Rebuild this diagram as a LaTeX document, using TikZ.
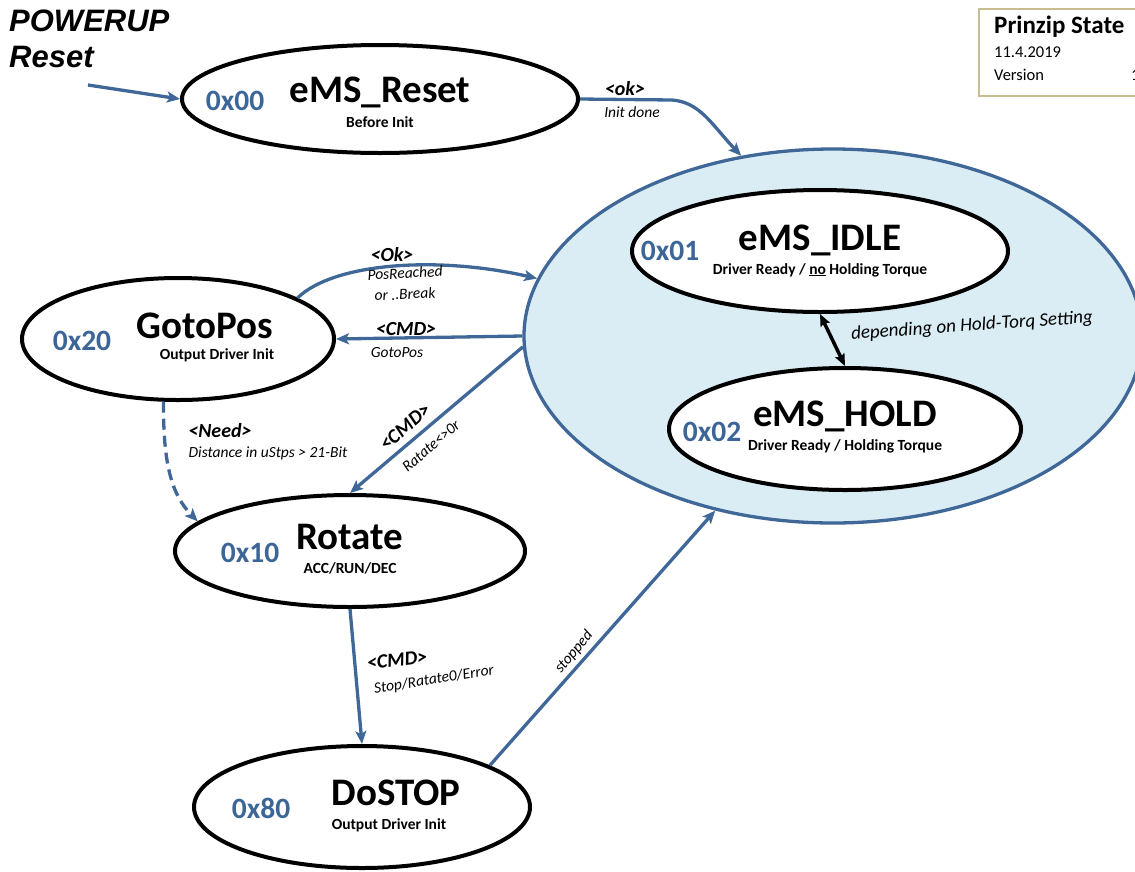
\documentclass[tikz,border=0pt]{standalone}
\usepackage{fontspec}
\setmainfont{Carlito}
\newfontfamily\arialfont{Liberation Sans}
\usetikzlibrary{arrows.meta,shapes.geometric}
\definecolor{eblue}{HTML}{3F6797}
\definecolor{hexblue}{HTML}{3D6698}
\definecolor{lblue}{HTML}{DAEDF4}
\definecolor{boxtan}{HTML}{C8BD90}
\begin{document}
\begin{tikzpicture}[x=1pt,y=-1pt,
  state/.style={ellipse, draw=black, line width=4pt, fill=white, inner sep=0pt},
  conn/.style={draw=eblue, line width=3.3pt, -{Stealth[length=13pt,width=11pt,inset=3pt]}},
  hex/.style={text=hexblue, font=\bfseries\fontsize{29.5}{31}\selectfont},
  ttl/.style={font=\bfseries\fontsize{39}{42}\selectfont},
  sub/.style={font=\bfseries\fontsize{15.5}{17}\selectfont},
  lbl/.style={font=\bfseries\itshape\fontsize{20}{22}\selectfont, inner sep=0pt},
  lsub/.style={font=\itshape\fontsize{15.5}{17}\selectfont, inner sep=0pt},
  pwrtxt/.style={font=\arialfont\bfseries\itshape\fontsize{31}{33}\selectfont, anchor=west, inner sep=0pt},
  infotxt/.style={anchor=west, inner sep=0pt, font=\fontsize{16.5}{18}\selectfont},
]
\useasboundingbox (0,0) rectangle (1135,871);

% info box
\node[draw=boxtan, line width=2pt, fill=white, minimum width=170pt, minimum height=87pt, anchor=north west, inner sep=0pt] (info) at (978,8) {};
\node[infotxt, font=\bfseries\fontsize{25}{27}\selectfont] (infot) at (994,27) {Prinzip State};
\node[infotxt] (infod) at (994,52) {11.4.2019};
\node[infotxt] (infov) at (994,75) {Version};
\node[infotxt] (infon) at (1131,75) {1};

% POWERUP
\node[pwrtxt] (pw1) at (9,21) {POWERUP};
\node[pwrtxt] (pw2) at (9,57) {Reset};
\coordinate (pwr) at (88,85);

% big composite state
\node[ellipse, draw=eblue, fill=lblue, line width=3.3pt, minimum width=618pt, minimum height=374pt, inner sep=0pt] (big) at (833,336) {};

% states
\node[state, minimum width=396pt, minimum height=108pt] (reset) at (380,99) {};
\node[state, minimum width=376pt, minimum height=122pt] (idle) at (820,251) {};
\node[state, minimum width=352pt, minimum height=122pt] (hold) at (845,429) {};
\node[state, minimum width=312pt, minimum height=122pt] (goto) at (178,339) {};
\node[state, minimum width=350pt, minimum height=112pt] (rotate) at (350,551) {};
\node[state, minimum width=336pt, minimum height=122pt] (dostop) at (362,807) {};

% texts in states
\node[hex] (h00) at (235,101) {0x00};
\node[ttl] (t00) at (380,92) {eMS\_Reset};
\node[sub] (s00) at (380,122) {Before Init};

\node[hex] (h01) at (670,251) {0x01};
\node[ttl] (t01) at (820,240) {eMS\_IDLE};
\node[sub] (s01) at (820,270) {Driver Ready / \underline{no} Holding Torque};

\node[hex] (h02) at (712,432) {0x02};
\node[ttl] (t02) at (845,416) {eMS\_HOLD};
\node[sub] (s02) at (845,446) {Driver Ready / Holding Torque};

\node[hex] (h20) at (82,341) {0x20};
\node[ttl] (t20) at (205,326) {GotoPos};
\node[sub] (s20) at (217,355) {Output Driver Init};

\node[hex] (h10) at (250,553) {0x10};
\node[ttl] (t10) at (350,537) {Rotate};
\node[sub] (s10) at (350,568) {ACC/RUN/DEC};

\node[hex] (h80) at (261,808) {0x80};
\node[ttl] (t80) at (396,793) {DoSTOP};
\node[sub] (s80) at (389,825) {Output Driver Init};

% connectors
\draw[conn] (pwr) -- (reset.west);
\draw[conn] (reset.east) -- (672,100) .. controls (700,102) and (712,125) .. (big.117);
\draw[conn] (goto.19) .. controls (335,262) and (440,256) .. (big.169);
\draw[conn] (big.west) -- (goto.east);
\draw[conn] (big.182) -- (rotate.north);
\draw[conn, dash pattern=on 11pt off 6pt] (goto.257) .. controls (163,465) and (172,495) .. (rotate.169);
\draw[conn] (rotate.south) -- (dostop.north);
\draw[conn] (dostop.18) -- (big.236);
\draw[draw=black, line width=3.5pt, {Stealth[length=12pt,width=10pt,inset=2pt]}-{Stealth[length=12pt,width=10pt,inset=2pt]}] (idle.south) -- (hold.north);

% edge labels
\node[lbl] (l1a) at (625,89) {<ok>};
\node[lsub] (l1b) at (632,112) {Init done};
\node[lbl] (l2a) at (392,255) {<Ok>};
\node[lsub, rotate=3] (l2b) at (405,273) {PosReached};
\node[lsub, rotate=3] (l2c) at (405,294) {or ..Break};
\node[lbl] (l3a) at (406,329) {<CMD>};
\node[lsub] (l3b) at (397,353) {GotoPos};
\node[lbl] (l4a) at (220,431) {<Need>};
\node[lsub] (l4b) at (268,453) {Distance in uStps > 21-Bit};
\node[lbl, rotate=41] (l5a) at (405,427) {<CMD>};
\node[lsub, rotate=41] (l5b) at (431,446) {Ratate<>0r};
\node[lbl, rotate=6] (l6a) at (397,660) {<CMD>};
\node[lsub, rotate=9] (l6b) at (434,680) {Stop/Ratate0/Error};
\node[lsub, rotate=50] (l7) at (574,652) {stopped};
\node[font=\itshape\fontsize{19}{21}\selectfont, rotate=4, inner sep=0pt] (l8) at (972,326) {depending on Hold-Torq Setting};
\end{tikzpicture}
\end{document}
